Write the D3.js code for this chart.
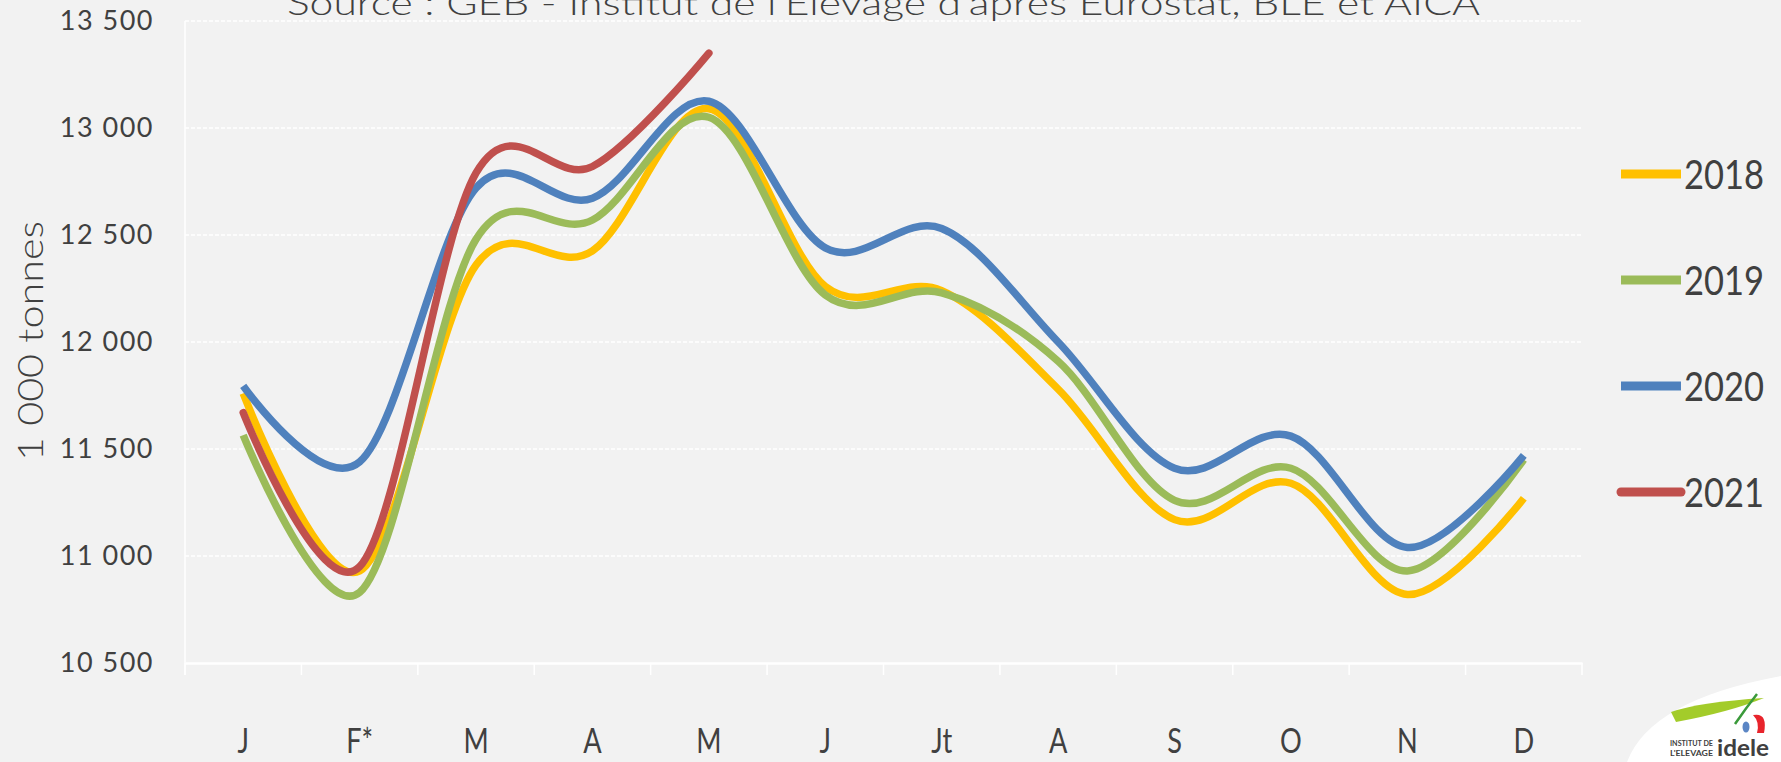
<!DOCTYPE html>
<html>
<head>
<meta charset="utf-8">
<title>Line Chart</title>
<script src="https://d3js.org/d3.v7.min.js"></script>
<style>
  body { margin: 0; background: #f2f2f2; }
  text { font-family: Lato, "Open Sans", sans-serif; fill: #404040; }
</style>
</head>
<body>
<svg width="1781" height="762"></svg>
<script>
const months = ["J", "F*", "M", "A", "M", "J", "Jt", "A", "S", "O", "N", "D"]
const yTicks = [10500, 11000, 11500, 12000, 12500, 13000, 13500]
const years = ["2018", "2019", "2020", "2021"]
const colors = ["#ffc000", "#9bbb59", "#4f81bd", "#c0504d"]

const v2018 = [11760, 10930, 12360, 12426, 13090, 12260, 12240, 11780, 11170, 11340, 10820, 11270]
const v2019 = [11565, 10830, 12480, 12570, 13050, 12220, 12230, 11910, 11260, 11410, 10930, 11450]
const v2020 = [11795, 11440, 12720, 12672, 13125, 12440, 12530, 12000, 11410, 11560, 11040, 11470]
const v2021 = [11670, 10950, 12790, 12820, 13350]

const series = [v2018, v2019, v2020, v2021]

const svg = d3.select("svg")
const margin = { top: 21, bottom: 99, left: 185, right: 199 }
const width = +svg.attr("width")
const height = +svg.attr("height")

svg.append("rect").attr("width", width).attr("height", height).attr("fill", "#f2f2f2")

const x = d3.scaleBand()
    .domain(d3.range(months.length))
    .range([margin.left, width - margin.right])

const y = d3.scaleLinear()
    .domain([10500, 13500])
    .range([height - margin.bottom, margin.top])

// gridlines
svg.append("g")
    .selectAll("line")
    .data(yTicks.slice(1))
    .join("line")
    .attr("x1", margin.left)
    .attr("x2", width - margin.right)
    .attr("y1", d => y(d))
    .attr("y2", d => y(d))
    .attr("stroke", "#ffffff")
    .attr("stroke-width", 1.5)
    .attr("stroke-dasharray", "4,2")

// left axis line
svg.append("line")
    .attr("x1", margin.left).attr("x2", margin.left)
    .attr("y1", margin.top).attr("y2", y(10500) + 12)
    .attr("stroke", "#ffffff").attr("stroke-width", 1.5)

// y tick labels
const yAxis = d3.axisLeft(y)
    .tickValues(yTicks)
    .tickSize(0)
    .tickPadding(31)
    .tickFormat(d => d3.format(",")(d).replace(",", " "))
const gy = svg.append("g").attr("transform", `translate(${margin.left},0)`).call(yAxis)
gy.select(".domain").remove()
gy.selectAll("text")
    .style("font-size", "27px")
    .style("letter-spacing", "1.5px")
    .attr("fill", "#404040")

// x axis
const xAxis = d3.axisBottom(x).tickSize(0).tickFormat(i => months[i])
const gx = svg.append("g").attr("transform", `translate(0,${y(10500)})`).call(xAxis)
gx.select(".domain").attr("stroke", "#ffffff").attr("stroke-width", 2.5)
gx.selectAll("text")
    .attr("y", 0)
    .attr("dy", 0)
    .style("font-size", "34px")
    .attr("transform", "translate(0,90) scale(0.8,1)")
gx.selectAll("line.cat")
    .data(d3.range(months.length + 1))
    .join("line")
    .attr("class", "cat")
    .attr("x1", i => margin.left + i * x.step())
    .attr("x2", i => margin.left + i * x.step())
    .attr("y1", 0).attr("y2", 12)
    .attr("stroke", "#ffffff").attr("stroke-width", 1.5)

// lines
const line = d3.line()
    .x((d, i) => x(i) + x.bandwidth() / 2)
    .y(d => y(d))
    .curve(d3.curveCardinal.tension(0))

svg.append("g")
    .selectAll("path")
    .data(series)
    .join("path")
    .attr("d", d => line(d))
    .attr("fill", "none")
    .attr("stroke", (d, i) => colors[i])
    .attr("stroke-width", 7.5)
    .attr("stroke-linecap", (d, i) => i == 3 ? "round" : "butt")
    .attr("stroke-linejoin", "round")

// legend
const legend = svg.append("g")
    .selectAll("g")
    .data(years)
    .join("g")
    .attr("transform", (d, i) => `translate(1621,${174 + i * 106})`)
legend.append("line")
    .attr("x1", 0).attr("x2", 60)
    .attr("stroke", (d, i) => colors[i])
    .attr("stroke-width", 9)
    .attr("stroke-linecap", (d, i) => i == 3 ? "round" : "butt")
legend.append("text")
    .attr("x", 63).attr("y", 14.5)
    .attr("textLength", 80)
    .attr("lengthAdjust", "spacingAndGlyphs")
    .style("font-size", "40px")
    .text(d => d)

// axis title
svg.append("text")
    .attr("transform", "translate(43,341) rotate(-90)")
    .attr("text-anchor", "middle")
    .attr("textLength", 240)
    .attr("lengthAdjust", "spacingAndGlyphs")
    .style("font-size", "36px")
    .style("font-weight", "300")
    .text("1 000  tonnes")

// source (clipped at top, as in the original)
svg.append("text")
    .attr("x", 287).attr("y", 15)
    .attr("textLength", 1193)
    .attr("lengthAdjust", "spacingAndGlyphs")
    .style("font-size", "34px")
    .style("font-weight", "300")
    .text("Source : GEB - Institut de l'Elevage d'après Eurostat, BLE et AICA")

// logo
const logo = svg.append("g")
logo.append("path")
    .attr("d", "M1627,762 Q1650,700 1781,676 L1781,762 Z")
    .attr("fill", "#ffffff")
logo.append("path")
    .attr("d", "M1671,712 Q1700,702 1764,698 Q1730,712 1676,722 Z")
    .attr("fill", "#a3cc2a")
logo.append("path")
    .attr("d", "M1735,724 Q1746,708 1757,694")
    .attr("stroke", "#3a9a3a").attr("stroke-width", 2.5).attr("fill", "none")
logo.append("path")
    .attr("d", "M1753,715 Q1768,712 1764,733 L1757,733 Q1760,722 1753,715 Z")
    .attr("fill", "#e8242c")
logo.append("ellipse")
    .attr("cx", 1746).attr("cy", 727).attr("rx", 3.5).attr("ry", 5.5)
    .attr("fill", "#5b86c5")
logo.append("text").attr("x", 1670).attr("y", 746)
    .attr("textLength", 43).attr("lengthAdjust", "spacingAndGlyphs")
    .style("font-size", "8px").style("font-weight", "bold").attr("fill", "#2b5ca8")
    .text("INSTITUT DE")
logo.append("text").attr("x", 1670).attr("y", 756)
    .attr("textLength", 43).attr("lengthAdjust", "spacingAndGlyphs")
    .style("font-size", "8px").style("font-weight", "bold").attr("fill", "#2b5ca8")
    .text("L'ELEVAGE")
logo.append("text").attr("x", 1717).attr("y", 756)
    .attr("textLength", 52).attr("lengthAdjust", "spacingAndGlyphs")
    .style("font-size", "23px").style("font-weight", "bold").attr("fill", "#2b5ca8")
    .text("idele")
</script>
</body>
</html>
